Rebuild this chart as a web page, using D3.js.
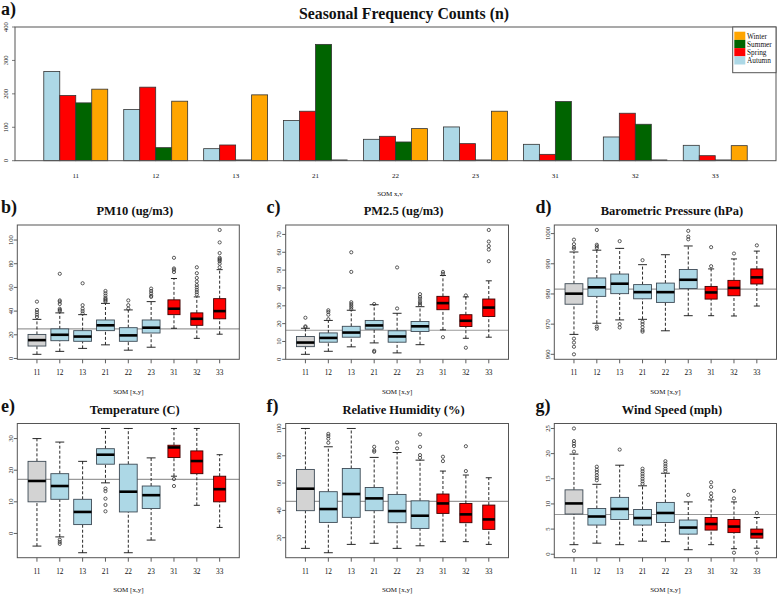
<!DOCTYPE html>
<html><head><meta charset="utf-8">
<script src="https://cdn.jsdelivr.net/npm/d3@7"></script>
<style>
body{margin:0;background:#fff}
svg{display:block}
text{font-family:"Liberation Serif","Times New Roman",serif;fill:#111}
</style>
</head><body>
<svg id="chart" width="778" height="596"></svg>
<script>
// ---------------- DATA ----------------
const categories = ["11","12","13","21","22","23","31","32","33"];
const seasons = ["Autumn","Spring","Summer","Winter"];
const legendOrder = ["Winter","Summer","Spring","Autumn"];
const autumnCounts = [267,153,36,120,64,101,49,71,46];
const springCounts = [195,220,47,148,73,51,19,142,15];
const summerCounts = [173,39,0,348,56,0,177,109,0];
const winterCounts = [214,178,197,0,96,148,null,0,45];
const countTicks = [0,100,200,300,400];

// box stats: [lower whisker, Q1, median, Q3, upper whisker]
const pm10Stats = [[3.5,10.5,15.5,20.3,33],[6,15,20,25,38.5],[8.5,14.5,18.5,23.5,37],[11.5,23.5,28,32.5,46.5],[7,14.5,19.5,26,41],[9.5,21.5,26,32.5,48],[25.5,37,42,49.5,67.5],[17,28,33.5,38.5,52],[20.5,33.5,40,50.5,75]];
const pm10Out = [[35,37,39,41,48],[40,41,42,46,48,49,71.5],[38,40,42,45,63.5],[48,49,50,51,53,55,57],[42,45,49],[52,53,55,57,59],[73,75,76,85],[54,56,58,60,62,65,68,72,77],[77,80,82,83,84,85,89,98,108.5]];
const pm10Ticks = [0,20,40,60,80,100];

const pm25Stats = [[2.8,7.1,9.4,12.8,17.4],[4.5,9.6,12,14.8,21.8],[7,12.4,15,18.5,27.5],[9.2,16.9,19,21.8,30.6],[3.6,9.6,12.8,16,25.8],[8.2,15.6,18.5,21.2,29.5],[16.5,27.8,31.5,35.3,47],[11.8,18.4,21.6,25,35],[12.4,24,29,33.8,44]];
const pm25Out = [[18,18.5,23.3],[22.5,25,26.5,27.5],[28,29,30,31,32,49,60],[31,4.2,4.8],[28.5,51.5],[30.5,31.5,32.5,34,35,36.5],[48,49,12.4],[35.8,6.5],[55,61.5,63.5,66,72.5]];
const pm25Ticks = [0,10,20,30,40,50,60,70];

const presStats = [[966.6,976.6,980.1,983.4,993.9],[970.3,979.2,982.2,985.3,994.5],[971.4,980.1,983.4,986.6,995.1],[971.6,978.4,980.6,983.1,989.7],[967.8,977.2,980.6,983.6,993],[972.8,981.8,984.7,988.1,995.9],[972.8,978.3,980.5,982.5,988.3],[972.7,979.4,982,984.5,991.6],[976,983.3,985.5,988.3,994.2]];
const presOut = [[995,995.5,996.5,998,965.2,963.9,962.5,960],[995.2,995.8,996.3,1001.2,969.2,968.5],[997.5,970,968.9],[991.2,970.8,970,969,968,967.5],[],[998.1,999,1000.9],[989.2,995.5],[993.4],[996.1]];
const presTicks = [960,970,980,990,1000];

const tempStats = [[-4,10,16.6,22.8,30],[-1.1,10.8,15,18.9,28.9],[-6.1,2.8,6.8,10.8,22.8],[16,21.9,24.9,26.8,33.2],[-6.1,6.8,13.2,21.9,33.2],[-2.1,7.9,12.1,15,23.9],[18.1,24,27.2,27.9,33.2],[8.9,18.9,22.9,26.1,33.2],[1.9,10,14,18.1,24.9]];
const tempOut = [[],[-2,-2.7,-3.3],[],[14.2,13.4,11,9,7],[],[],[17.2,15],[],[]];
const tempTicks = [0,10,20,30];

const rhStats = [[12.2,39.8,55.9,70,100],[9,31.2,41,53.7,86.6],[15.1,34.9,52,70.7,100],[15.9,39.8,48.8,56.8,78.8],[12.2,31,39.5,51.7,82.4],[14.1,26.8,36.1,47,76.8],[17.1,37.8,45.1,52,68.8],[17.1,31,37.1,45.1,65.9],[15.1,26.1,33.4,43.9,63.9]];
const rhOut = [[],[89.5,92.5,94.5,96],[],[83,84,86.6],[85.4,89.8],[78.5,80.5,86.6,95.6],[76.1,79.3],[68.8,87],[]];
const rhTicks = [20,40,60,80,100];

const windStats = [[1.9,8,10.1,12.8,19.9],[2.2,5.8,7.5,9.1,13.9],[1.9,6.9,9,11.3,17.7],[2.6,5.8,7.2,8.9,13.6],[2.5,6.3,8.2,10.3,16.1],[0.9,4,5.3,6.8,10.4],[1.9,4.8,6,7.3,10.8],[1.1,4.3,5.5,6.9,10.4],[1.2,3.2,4,5,7.3]];
const windOut = [[20.4,21.5,22,22.5,25,0.7],[14.7,15.2,15.7,16.3,16.8,17.4],[20.8],[14,14.5,15,15.5,16,16.5,17],[16.5,17,17.5,18,18.5],[11.8],[11.4,12.1,13.4,14.3],[11.1,12.6,0.3],[8.2,0.3]];
const windTicks = [0,5,10,15,20,25];

const referenceValues = [25, 16.3, 981.6, 17.1, 46.6, 7.9];

// ---------------- STYLE ----------------
const seasonColor = {Autumn:"#add8e6", Spring:"#ff0000", Summer:"#006400", Winter:"#ffa500"};
const frameColor = "#555";

const svg = d3.select("#chart");

// ---------------- TOP BAR CHART ----------------
(function(){
  const L=15, R=776, T=27, B=160.7;
  const countsBySeason = {Autumn:autumnCounts, Spring:springCounts, Summer:summerCounts, Winter:winterCounts};
  const x0 = d3.scaleBand().domain(categories).range([L,R]).paddingInner(0.2).paddingOuter(0.36);
  const x1 = d3.scaleBand().domain(seasons).range([0,x0.bandwidth()]);
  const y = d3.scaleLinear().domain([0,400]).range([B,T]);
  const g = svg.append("g");
  categories.forEach((c,i)=>{
    seasons.forEach(s=>{
      const v = countsBySeason[s][i];
      if(v===null) return;
      if(v===0){
        g.append("line").attr("x1",x0(c)+x1(s)).attr("x2",x0(c)+x1(s)+x1.bandwidth())
          .attr("y1",y(0)-0.5).attr("y2",y(0)-0.5).attr("stroke","#111").attr("stroke-width",1.2);
        return;
      }
      g.append("rect").attr("x",x0(c)+x1(s)).attr("width",x1.bandwidth())
        .attr("y",y(v)).attr("height",Math.max(0,y(0)-y(v)))
        .attr("fill",seasonColor[s]).attr("stroke","#333").attr("stroke-width",0.8);
    });
    g.append("text").attr("x",x0(c)+x0.bandwidth()/2).attr("y",177.5)
      .attr("text-anchor","middle").style("font-size","7px").text(c);
  });
  // frame
  g.append("rect").attr("x",L).attr("y",T).attr("width",R-L).attr("height",B-T)
    .attr("fill","none").attr("stroke",frameColor).attr("stroke-width",1);
  // y axis ticks
  countTicks.forEach(t=>{
    g.append("line").attr("x1",L-3).attr("x2",L).attr("y1",y(t)).attr("y2",y(t)).attr("stroke","#444").attr("stroke-width",0.7);
    g.append("text").attr("transform",`translate(${L-7.5},${y(t)}) rotate(-90)`)
      .attr("text-anchor","middle").style("font-size","6.5px").text(t);
  });
  // legend
  const lg = g.append("g");
  lg.append("rect").attr("x",732.7).attr("y",T).attr("width",R-732.7).attr("height",72.7-T)
    .attr("fill","#fff").attr("stroke",frameColor).attr("stroke-width",1);
  legendOrder.forEach((s,i)=>{
    lg.append("rect").attr("x",734.3).attr("y",31.7+i*8.2).attr("width",11).attr("height",8.2).attr("fill",seasonColor[s]);
    lg.append("text").attr("x",747).attr("y",38.6+i*8.2).style("font-size","7.3px").text(s);
  });
  svg.append("text").attr("x",404).attr("y",19).attr("text-anchor","middle")
    .style("font-size","15.8px").style("font-weight","bold").text("Seasonal Frequency Counts (n)");
  svg.append("text").attr("x",1).attr("y",15).style("font-size","18px").style("font-weight","bold").text("a)");
  svg.append("text").attr("x",390).attr("y",195.5).attr("text-anchor","middle").style("font-size","7px").text("SOM  x,v");
})();

// ---------------- BOX PANELS ----------------
function boxPanel(cfg){
  const {L,R,T,B,stats,outs,ticks,ref,title,letter,letterX} = cfg;
  const g = svg.append("g");
  const all = stats.flat().concat(outs.flat());
  const ext = d3.extent(all);
  const pad = (ext[1]-ext[0])*0.04;
  const y = d3.scaleLinear().domain([ext[0]-pad, ext[1]+pad]).range([B,T]);
  const x = d3.scalePoint().domain(categories).range([L,R]).padding(0.86);
  const step = x.step();
  // reference line
  g.append("line").attr("x1",L).attr("x2",R).attr("y1",y(ref)).attr("y2",y(ref))
    .attr("stroke","#9a9a9a").attr("stroke-width",1.2);
  categories.forEach((c,i)=>{
    const s = stats[i];
    const cx = x(c);
    const isRed = i>=6;
    const fill = i===0 ? "#d3d3d3" : (isRed ? "#ff0000" : "#add8e6");
    const stroke = isRed ? "#3a0000" : "#3d4a55";
    const w = (isRed ? 0.53 : 0.78)*step;
    // whiskers
    g.append("line").attr("x1",cx).attr("x2",cx).attr("y1",y(s[0])).attr("y2",y(s[1]))
      .attr("stroke","#111").attr("stroke-width",0.9).attr("stroke-dasharray","3,2");
    g.append("line").attr("x1",cx).attr("x2",cx).attr("y1",y(s[3])).attr("y2",y(s[4]))
      .attr("stroke","#111").attr("stroke-width",0.9).attr("stroke-dasharray","3,2");
    [s[0],s[4]].forEach(v=>{
      g.append("line").attr("x1",cx-w/4).attr("x2",cx+w/4).attr("y1",y(v)).attr("y2",y(v))
        .attr("stroke","#111").attr("stroke-width",0.9);
    });
    g.append("rect").attr("x",cx-w/2).attr("width",w).attr("y",y(s[3])).attr("height",y(s[1])-y(s[3]))
      .attr("fill",fill).attr("stroke",stroke).attr("stroke-width",0.9);
    g.append("line").attr("x1",cx-w/2).attr("x2",cx+w/2).attr("y1",y(s[2])).attr("y2",y(s[2]))
      .attr("stroke","#000").attr("stroke-width",2.6);
    outs[i].forEach(v=>{
      g.append("circle").attr("cx",cx).attr("cy",y(v)).attr("r",1.6)
        .attr("fill","none").attr("stroke","#333").attr("stroke-width",0.8);
    });
    // x tick + label
    g.append("line").attr("x1",cx).attr("x2",cx).attr("y1",B).attr("y2",B+4).attr("stroke","#333").attr("stroke-width",0.8);
    g.append("text").attr("x",cx).attr("y",B+16).attr("text-anchor","middle").style("font-size","7.3px").text(c);
  });
  ticks.forEach(t=>{
    g.append("line").attr("x1",L-3.5).attr("x2",L).attr("y1",y(t)).attr("y2",y(t)).attr("stroke","#333").attr("stroke-width",0.8);
    g.append("text").attr("transform",`translate(${L-4.5},${y(t)}) rotate(-90)`)
      .attr("text-anchor","middle").style("font-size","6.5px").text(t);
  });
  g.append("rect").attr("x",L).attr("y",T).attr("width",R-L).attr("height",B-T)
    .attr("fill","none").attr("stroke",frameColor).attr("stroke-width",1);
  g.append("text").attr("x",(L+R)/2+6.5).attr("y",T-10).attr("text-anchor","middle")
    .style("font-size","12.5px").style("font-weight","bold").text(title);
  g.append("text").attr("x",letterX).attr("y",T-12).style("font-size","18px").style("font-weight","bold").text(letter);
  g.append("text").attr("x",(L+R)/2).attr("y",B+34.5).attr("text-anchor","middle").style("font-size","7px").text("SOM [x,y]");
}

const row1 = {T:225, B:359.3}, row2 = {T:423.5, B:557.7};
const col1 = {L:17.3, R:239.3}, col2 = {L:285.7, R:508.5}, col3 = {L:554.3, R:776.5};

boxPanel({...row1,...col1, stats:pm10Stats, outs:pm10Out, ticks:pm10Ticks, ref:referenceValues[0], title:"PM10 (ug/m3)", letter:"b)", letterX:1});
boxPanel({...row1,...col2, stats:pm25Stats, outs:pm25Out, ticks:pm25Ticks, ref:referenceValues[1], title:"PM2.5 (ug/m3)", letter:"c)", letterX:266.5});
boxPanel({...row1,...col3, stats:presStats, outs:presOut, ticks:presTicks, ref:referenceValues[2], title:"Barometric Pressure (hPa)", letter:"d)", letterX:535.5});
boxPanel({...row2,...col1, stats:tempStats, outs:tempOut, ticks:tempTicks, ref:referenceValues[3], title:"Temperature (C)", letter:"e)", letterX:1});
boxPanel({...row2,...col2, stats:rhStats, outs:rhOut, ticks:rhTicks, ref:referenceValues[4], title:"Relative Humidity (%)", letter:"f)", letterX:266.5});
boxPanel({...row2,...col3, stats:windStats, outs:windOut, ticks:windTicks, ref:referenceValues[5], title:"Wind Speed (mph)", letter:"g)", letterX:535.5});
</script>
</body></html>
